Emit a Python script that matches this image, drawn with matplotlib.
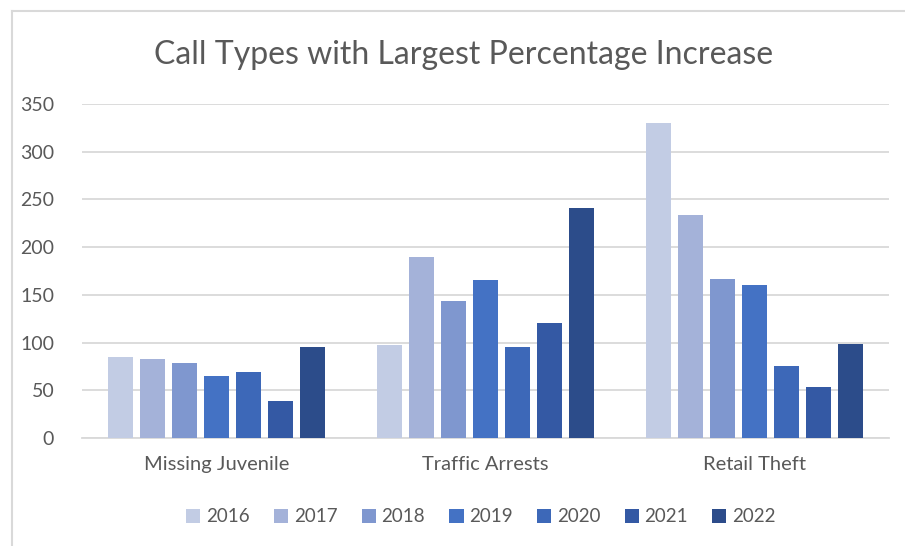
import matplotlib
matplotlib.use("Agg")
import matplotlib.pyplot as plt
import numpy as np
from matplotlib.lines import Line2D

categories = ["Missing Juvenile", "Traffic Arrests", "Retail Theft"]
years = ["2016", "2017", "2018", "2019", "2020", "2021", "2022"]
v2016 = [85, 97, 330]
v2017 = [83, 190, 234]
v2018 = [79, 144, 167]
v2019 = [65, 166, 160]
v2020 = [69, 95, 75]
v2021 = [39, 121, 53]
v2022 = [95, 241, 98]
series = [v2016, v2017, v2018, v2019, v2020, v2021, v2022]
colors = ["#c2cce4", "#a4b2d9", "#7f97cf", "#4472c4", "#3d68b8", "#3459a4", "#2c4c8a"]
yticks = [0, 50, 100, 150, 200, 250, 300, 350]

plt.rcParams['font.family'] = ['Lato', 'DejaVu Sans']
fig = plt.figure(figsize=(9.05, 5.46), dpi=100)
L, R, T, B = 82, 889, 104, 438
ax = fig.add_axes([L/905, 1-B/546, (R-L)/905, (B-T)/546])

x = np.arange(len(categories))
catw = (R - L) / 3
pitch = 32/catw
width = 25/catw
for i, (vals, c, yr) in enumerate(zip(series, colors, years)):
    ax.bar(x + (i-3)*pitch, vals, width=width, color=c, label=yr, zorder=3)

ax.set_xlim(-0.5, 2.5)
ax.set_ylim(0, 350)
ax.set_yticks(yticks)
ax.set_xticks(x)
ax.set_xticklabels(categories)
ax.grid(axis='y', color='#d9d9d9', linewidth=1.3, zorder=0)
for s in ['top', 'right', 'left']:
    ax.spines[s].set_visible(False)
ax.spines['bottom'].set_color('#d9d9d9')
ax.spines['bottom'].set_linewidth(1.3)
ax.tick_params(axis='y', length=0, labelsize=14, colors='#595959', pad=20)
ax.tick_params(axis='x', length=0, labelsize=14.5, colors='#595959', pad=13)

fig.text(463.5/905, 1-55/546, "Call Types with Largest Percentage Increase",
         ha='center', va='center', fontsize=23, color='#595959')

leg = ax.legend(loc='center', bbox_to_anchor=((481-L)/(R-L), (B-517)/(B-T)), ncol=7,
                frameon=False, fontsize=13.5, handlelength=0.75, handleheight=0.75,
                handletextpad=0.3, columnspacing=1.3)
for t in leg.get_texts():
    t.set_color('#595959')

bx, by = 12/905, 1-11/546
fig.lines.append(Line2D([bx, bx], [0, by], transform=fig.transFigure, color='#d9d9d9', linewidth=1.5))
fig.lines.append(Line2D([bx, 1], [by, by], transform=fig.transFigure, color='#d9d9d9', linewidth=1.5))

fig.savefig("out.png", dpi=100)
